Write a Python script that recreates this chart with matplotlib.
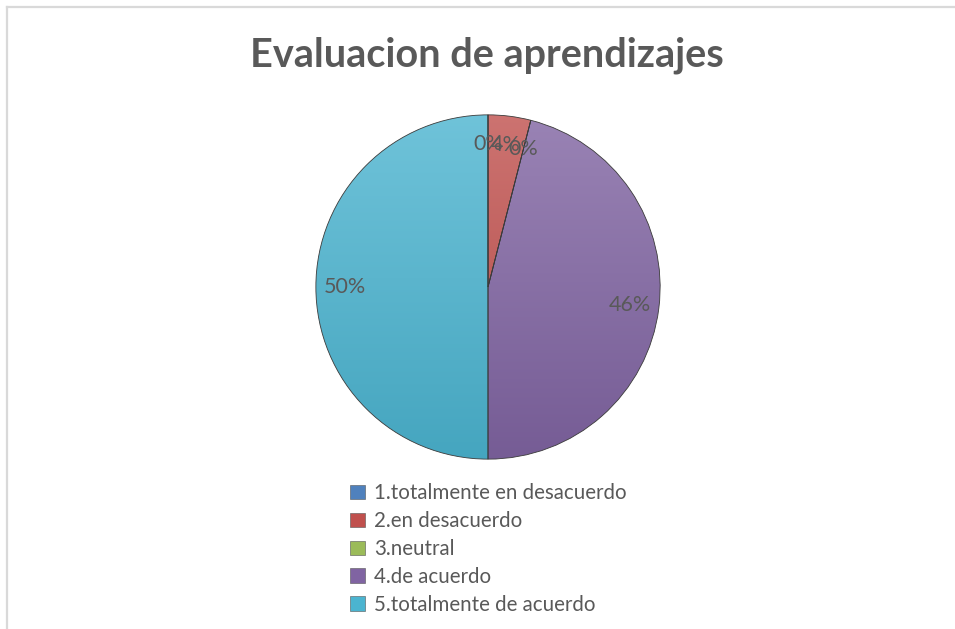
import numpy as np
import matplotlib
matplotlib.use("Agg")
import matplotlib.pyplot as plt
from matplotlib.patches import Patch
from matplotlib.lines import Line2D
from matplotlib.colors import to_rgb

plt.rcParams["font.family"] = ["Lato", "DejaVu Sans"]

TITLE = "Evaluacion de aprendizajes"
CATEGORIES = ["1.totalmente en desacuerdo", "2.en desacuerdo", "3.neutral",
              "4.de acuerdo", "5.totalmente de acuerdo"]
PERCENTS = [0, 4, 0, 46, 50]
COLORS = ["#4F81BD", "#C0504D", "#9BBB59", "#8064A2", "#4BB4D0"]
TEXT = "#595959"

W, H = 955, 629
fig = plt.figure(figsize=(W / 100, H / 100), dpi=100)

# light frame (chart area border, top + left visible)
fig.add_artist(Line2D([7 / W, 1], [1 - 7 / H] * 2, color="#d9d9d9", lw=1.6))
fig.add_artist(Line2D([7 / W] * 2, [0, 1 - 7 / H], color="#d9d9d9", lw=1.6))

fig.text(487 / W, 1 - 55 / H, TITLE, ha="center", va="center",
         fontsize=28.5, fontweight="bold", color=TEXT)

# pie: center (488, 287), radius 173 px
ax = fig.add_axes([315 / W, 1 - 460 / H, 346 / W, 346 / H])
wedges, texts, autotexts = ax.pie(
    PERCENTS, colors=COLORS, startangle=90, counterclock=False, radius=1,
    autopct=lambda p: f"{p:.0f}%", pctdistance=0.83,
    wedgeprops=dict(edgecolor="#3a3a3a", linewidth=0.6),
    textprops=dict(fontsize=15.5, color=TEXT))
ax.set_xlim(-1.005, 1.005)
ax.set_ylim(-1.005, 1.005)

# vertical light->dark shading inside each wedge
yy = np.linspace(1, 0, 256)[:, None]
for w, c in zip(wedges, COLORS):
    base = np.array(to_rgb(c))
    top = base + (1 - base) * 0.2
    bot = base * 0.92
    grad = top[None, None, :] * yy[..., None] + bot[None, None, :] * (1 - yy[..., None])
    grad = np.repeat(grad, 2, axis=1)
    im = ax.imshow(grad, extent=(-1, 1, -1, 1), origin="upper", zorder=w.get_zorder() + 0.1,
                   aspect="auto")
    im.set_clip_path(w)
    w.set_facecolor("none")
    w.set_zorder(w.get_zorder() + 0.2)
for t in autotexts:
    t.set_zorder(5)

handles = [Patch(facecolor=c, edgecolor="#555555", linewidth=0.4) for c in COLORS]
fig.legend(handles, CATEGORIES, loc="upper left", bbox_to_anchor=(340 / W, 1 - 473 / H),
           frameon=False, fontsize=14.8, handlelength=0.7, handleheight=0.7,
           handletextpad=0.45, labelspacing=0.38, borderpad=0, labelcolor=TEXT)

fig.savefig("out.png", dpi=100, facecolor="white")
